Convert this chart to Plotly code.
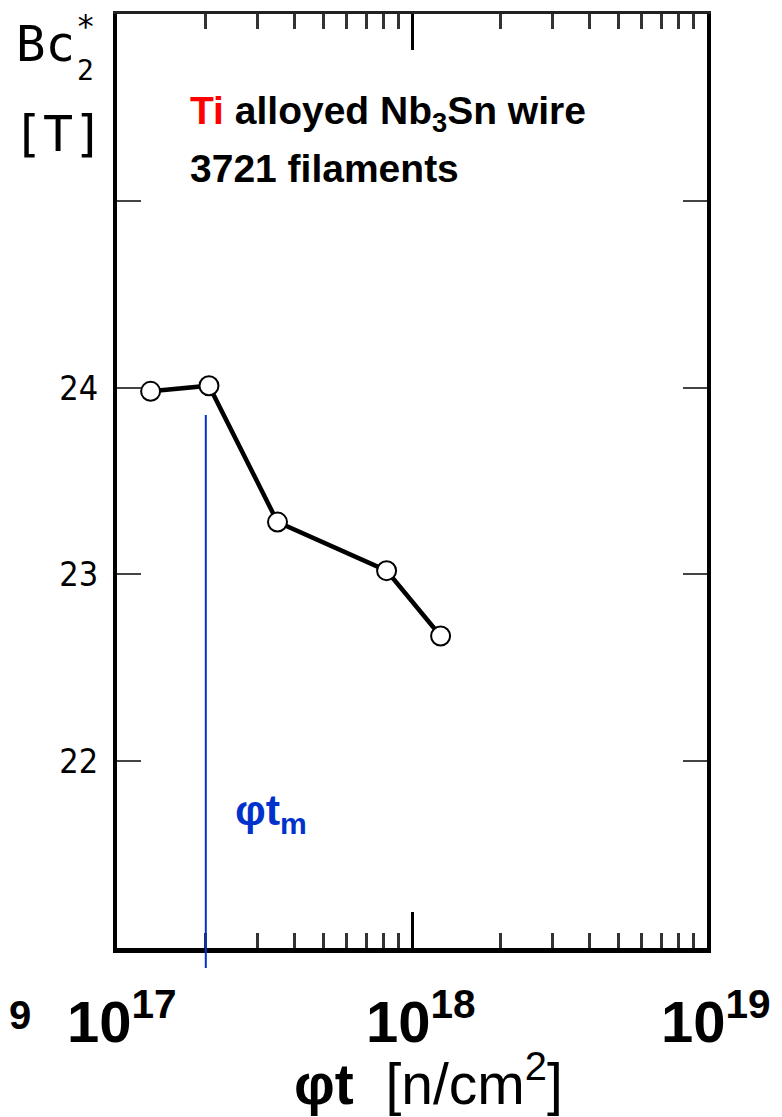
import plotly.graph_objects as go

# ---- data ----
fluence = [1.3e17, 2.05e17, 3.5e17, 8.2e17, 1.25e18]   # phi t [n/cm^2]
bc2 = [23.98, 24.01, 23.28, 23.02, 22.67]              # Bc2* [T]
phi_tm = 2.0e17                                        # marked fluence
ytick_vals = [22, 23, 24, 25]
ytick_text = ["22", "23", "24", ""]
xmajor_exps = [17, 18, 19]

W, H = 782, 1117
L, R, T, B = 117, 707, 14, 948   # plot area in pixels


def px(x):
    return (x - L) / (R - L)


def py(y):
    return (B - y) / (B - T)


fig = go.Figure()
fig.add_trace(go.Scatter(
    x=fluence, y=bc2, mode="lines+markers",
    line=dict(color="black", width=4.5),
    marker=dict(symbol="circle", size=19, color="white",
                line=dict(color="black", width=2)),
    showlegend=False, cliponaxis=False))
# invisible companion trace so the mirrored top axis (with minor ticks) is drawn
fig.add_trace(go.Scatter(x=fluence, y=bc2, xaxis="x2", mode="markers",
                         marker=dict(opacity=0), hoverinfo="skip",
                         showlegend=False))

minor_vals = [m * 10 ** e for e in [17, 18] for m in range(2, 10)]

xcommon = dict(type="log", range=[17, 19],
               tickvals=[10 ** e for e in xmajor_exps], showticklabels=False,
               ticks="inside", ticklen=36, tickwidth=3, tickcolor="black",
               minor=dict(tickvals=minor_vals, ticks="inside", ticklen=15,
                          tickwidth=3, tickcolor="#333"),
               showgrid=False, zeroline=False)

fig.update_layout(
    width=W, height=H,
    margin=dict(l=L, r=W - R, t=T, b=H - B),
    paper_bgcolor="white", plot_bgcolor="white",
    font=dict(family="Liberation Sans, Arial, sans-serif", color="black"),
    xaxis=dict(**xcommon, showline=True, linewidth=5, linecolor="black"),
    xaxis2=dict(**xcommon, overlaying="x", side="top", anchor="y",
                showline=True, linewidth=3, linecolor="#222"),
    yaxis=dict(range=[21, 26], tickvals=ytick_vals, ticktext=ytick_text,
               ticks="inside", ticklen=24, tickwidth=2, tickcolor="#444",
               ticklabelstandoff=8,
               tickfont=dict(size=34, family="DejaVu Sans Condensed, Liberation Sans Narrow, Liberation Sans, sans-serif"),
               showline=True, linewidth=4, linecolor="black", mirror="ticks",
               showgrid=False, zeroline=False),
)

# blue marker line at phi t_m
fig.add_shape(type="line", xref="x", yref="paper",
              x0=phi_tm, x1=phi_tm, y0=py(415), y1=py(968),
              line=dict(color="#0033cc", width=2))

ann = []
# x tick labels
for e, sh in zip(xmajor_exps, [5, 9, 9]):
    ann.append(dict(x=e, xref="x", y=py(1018), yref="paper",
                    text=f"<b>10<sup>{e}</sup></b>", showarrow=False,
                    xanchor="center", yanchor="middle", xshift=sh,
                    font=dict(size=58, color="black")))
ann.append(dict(x=px(20), xref="paper", y=py(1015), yref="paper",
                text="<b>9</b>", showarrow=False, xanchor="center",
                yanchor="middle", font=dict(size=40, color="black")))
# x axis title
ann.append(dict(x=px(428), xref="paper", y=py(1080), yref="paper",
                text="<b>φt</b>  [n/cm<sup>2</sup>]", showarrow=False,
                xanchor="center", yanchor="middle",
                font=dict(size=57, color="black")))
# y axis title
mono = "DejaVu Sans Mono, Liberation Mono, monospace"
ann.append(dict(x=px(14), xref="paper", y=py(44), yref="paper",
                text="Bc", showarrow=False, xanchor="left", yanchor="middle",
                font=dict(size=49, family=mono, color="black")))
ann.append(dict(x=px(85), xref="paper", y=py(26), yref="paper",
                text="*", showarrow=False, xanchor="center", yanchor="middle",
                font=dict(size=32, family=mono, color="black")))
ann.append(dict(x=px(85), xref="paper", y=py(70), yref="paper",
                text="2", showarrow=False, xanchor="center", yanchor="middle",
                font=dict(size=28, family=mono, color="black")))
ann.append(dict(x=px(58), xref="paper", y=py(134), yref="paper",
                text="[T]", showarrow=False, xanchor="center", yanchor="middle",
                font=dict(size=50, family=mono, color="black")))
# chart labels
ann.append(dict(x=px(188), xref="paper", y=py(113), yref="paper",
                text="<b><span style='color:#ff0000'>Ti</span> alloyed Nb<sub>3</sub>Sn wire</b>",
                showarrow=False, xanchor="left", yanchor="middle",
                font=dict(size=39, color="black")))
ann.append(dict(x=px(188), xref="paper", y=py(168), yref="paper",
                text="<b>3721 filaments</b>", showarrow=False,
                xanchor="left", yanchor="middle",
                font=dict(size=39, color="black")))
ann.append(dict(x=px(233), xref="paper", y=py(813), yref="paper",
                text="<b>φt<sub>m</sub></b>", showarrow=False,
                xanchor="left", yanchor="middle",
                font=dict(size=43, color="#0033cc")))
fig.update_layout(annotations=ann)

fig.write_html("out.html", config={"displayModeBar": False},
               post_script="document.body.style.margin='0';"
                           "document.body.style.overflow='hidden';")
